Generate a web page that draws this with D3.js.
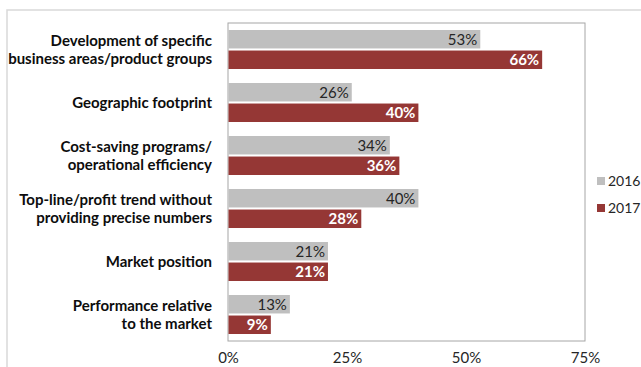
<!DOCTYPE html>
<html>
<head>
<meta charset="utf-8">
<script src="https://cdn.jsdelivr.net/npm/d3@7/dist/d3.min.js"></script>
<style>
  html, body { margin: 0; padding: 0; background: #fff; }
  svg { display: block; font-family: Lato, "Liberation Sans", sans-serif; }
</style>
</head>
<body>
<svg id="chart" width="641" height="367"></svg>
<script>
// Reported topics, top to bottom
const categories = [
  ["Development of specific", "business areas/product groups"],
  ["Geographic footprint"],
  ["Cost-saving programs/", "operational efficiency"],
  ["Top-line/profit trend without", "providing precise numbers"],
  ["Market position"],
  ["Performance relative", "to the market"]
];
const series = ["2016", "2017"];
const values2016 = [53, 26, 34, 40, 21, 13];
const values2017 = [66, 40, 36, 28, 21, 9];
const xTicks = [0, 25, 50, 75];
const colors = { "2016": "#BFBFBF", "2017": "#953735" };

const svg = d3.select("#chart");
const keys = categories.map(c => c.join(" "));
const rows = keys.map((k, i) => ({ key: k, lines: categories[i], v: { "2016": values2016[i], "2017": values2017[i] } }));

// Outer frame
svg.append("rect")
  .attr("x", 7).attr("y", 10).attr("width", 700).attr("height", 400)
  .attr("fill", "none").attr("stroke", "#D9D9D9").attr("stroke-width", 1.5);

const x = d3.scaleLinear().domain([0, 75]).range([228, 585]);
const y = d3.scaleBand().domain(keys).range([23, 341]).paddingInner(0.264).paddingOuter(0.132);
const ySub = d3.scaleBand().domain(series).range([0, y.bandwidth()]).paddingInner(0.1);

// Plot frame
svg.append("rect")
  .attr("x", x(0)).attr("y", 23)
  .attr("width", x(75) - x(0)).attr("height", 341 - 23)
  .attr("fill", "none").attr("stroke", "#A6A6A6").attr("stroke-width", 1);

const groups = svg.append("g").selectAll("g")
  .data(rows).join("g")
  .attr("transform", d => `translate(0,${y(d.key)})`);

groups.selectAll("rect")
  .data(d => series.map(s => ({ s, v: d.v[s] })))
  .join("rect")
  .attr("x", x(0) + 0.5)
  .attr("y", d => ySub(d.s))
  .attr("width", d => x(d.v) - x(0) - 0.5)
  .attr("height", ySub.bandwidth())
  .attr("fill", d => colors[d.s]);

groups.selectAll("text.val")
  .data(d => series.map(s => ({ s, v: d.v[s] })))
  .join("text")
  .attr("class", "val")
  .attr("x", d => x(d.v) - 3)
  .attr("y", d => ySub(d.s) + ySub.bandwidth() / 2)
  .attr("dy", "0.36em")
  .attr("text-anchor", "end")
  .attr("font-size", 15)
  .attr("font-weight", d => d.s === "2017" ? "bold" : "normal")
  .attr("fill", d => d.s === "2017" ? "#FFFFFF" : "#262626")
  .text(d => d.v + "%");

// Category labels
groups.append("text")
  .attr("text-anchor", "end")
  .attr("font-size", 15)
  .attr("font-weight", "bold")
  .attr("fill", "#0d0d0d")
  .selectAll("tspan")
  .data(d => d.lines.map((t, i) => ({ t, i, n: d.lines.length })))
  .join("tspan")
  .attr("x", 212)
  .attr("y", d => y.bandwidth() / 2 + (d.i - (d.n - 1) / 2) * 18)
  .attr("dy", "0.36em")
  .text(d => d.t);

// X axis labels
const xAxis = d3.axisBottom(x).tickValues(xTicks).tickFormat(d => d + "%").tickSize(0).tickPadding(0);
const ax = svg.append("g").attr("transform", "translate(0,352)").call(xAxis);
ax.select(".domain").remove();
ax.selectAll("text").attr("font-size", 15).attr("fill", "#262626").attr("font-family", "Lato, sans-serif");

// Legend
const legend = svg.append("g").selectAll("g")
  .data(series).join("g")
  .attr("transform", (d, i) => `translate(597,${181 + i * 27})`);
legend.append("rect")
  .attr("x", 0).attr("y", -4).attr("width", 8).attr("height", 8)
  .attr("fill", d => colors[d]);
legend.append("text")
  .attr("x", 11).attr("y", 0).attr("dy", "0.36em")
  .attr("font-size", 14).attr("fill", "#262626")
  .text(d => d);
</script>
</body>
</html>
